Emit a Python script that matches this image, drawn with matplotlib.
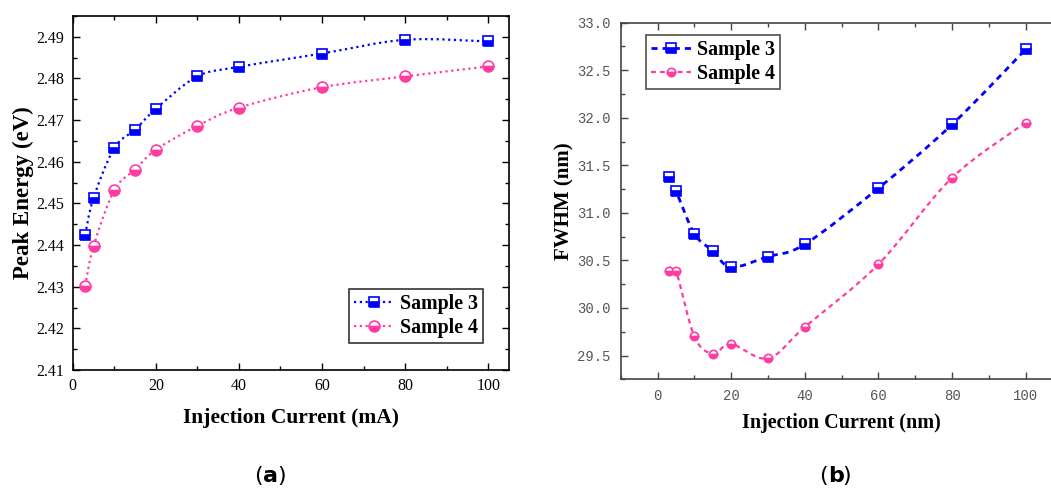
import numpy as np
import matplotlib
matplotlib.use("Agg")
import matplotlib.pyplot as plt
from matplotlib.path import Path
from matplotlib.patches import PathPatch
from matplotlib.lines import Line2D
from matplotlib.ticker import MultipleLocator, FormatStrFormatter

# ---------------------------------------------------------------------------
# Data
# ---------------------------------------------------------------------------
current = [3, 5, 10, 15, 20, 30, 40, 60, 80, 100]

peak_s3 = [2.4425, 2.4513, 2.4633, 2.4677, 2.4727, 2.4805, 2.4828, 2.4860, 2.4893, 2.4889]
peak_s4 = [2.4302, 2.4397, 2.4532, 2.4581, 2.4629, 2.4686, 2.4730, 2.4779, 2.4805, 2.4829]

fwhm_s3 = [31.38, 31.23, 30.78, 30.60, 30.43, 30.54, 30.67, 31.26, 31.93, 32.72]
fwhm_s4 = [30.39, 30.39, 29.70, 29.52, 29.62, 29.47, 29.80, 30.46, 31.37, 31.95]

labels = ["Sample 3", "Sample 4"]

BLUE = "#0000FF"
PINK = "#FF3CA0"
SERIF = "Liberation Serif"


def smooth_path(x, y):
    """Catmull-Rom spline through the points, as cubic Bezier segments."""
    p = np.column_stack([x, y]).astype(float)
    ext = np.vstack([p[0], p, p[-1]])
    verts = [p[0]]
    codes = [Path.MOVETO]
    for i in range(len(p) - 1):
        p0, p1, p2, p3 = ext[i], ext[i + 1], ext[i + 2], ext[i + 3]
        verts += [p1 + (p2 - p0) / 6.0, p2 - (p3 - p1) / 6.0, p2]
        codes += [Path.CURVE4] * 3
    return Path(verts, codes)


def draw_series(ax, x, y, color, marker, ms, ls, lw):
    ax.add_patch(PathPatch(smooth_path(x, y), fill=False, edgecolor=color,
                           linestyle=ls, lw=lw, zorder=2))
    ax.plot(x, y, ls="none", marker=marker, ms=ms, color=color,
            fillstyle="bottom", markerfacecoloralt="white",
            markeredgecolor=color, mew=1.2, zorder=3)
    return Line2D([], [], color=color, ls=ls, lw=lw, marker=marker, ms=ms,
                  fillstyle="bottom", markerfacecoloralt="white",
                  markeredgecolor=color, mew=1.2)


fig = plt.figure(figsize=(10.51, 4.96), dpi=100)

# ---------------------------------------------------------------------------
# (a) Peak energy
# ---------------------------------------------------------------------------
ax1 = fig.add_axes([0.0692, 0.254, 0.4151, 0.7137])
h1 = draw_series(ax1, current, peak_s3, BLUE, "s", 7.8, (0, (1, 1.6)), 1.6)
h2 = draw_series(ax1, current, peak_s4, PINK, "o", 7.8, (0, (1, 1.6)), 1.6)
ax1.set_xlim(0, 105)
ax1.set_ylim(2.41, 2.495)
ax1.xaxis.set_major_locator(MultipleLocator(20))
ax1.xaxis.set_minor_locator(MultipleLocator(10))
ax1.yaxis.set_major_locator(MultipleLocator(0.01))
ax1.yaxis.set_minor_locator(MultipleLocator(0.005))
ax1.yaxis.set_major_formatter(FormatStrFormatter("%.2f"))
ax1.tick_params(which="both", direction="in", top=True, right=True, width=1.0)
ax1.tick_params(which="major", length=5, labelsize=11.5, pad=6)
ax1.tick_params(which="minor", length=3)
for lab in ax1.get_xticklabels() + ax1.get_yticklabels():
    lab.set_family(SERIF)
for s in ax1.spines.values():
    s.set_linewidth(1.2)
ax1.set_xlabel("Injection Current (mA)", family=SERIF, fontweight="bold",
               fontsize=15.5, labelpad=10)
ax1.set_ylabel("Peak Energy (eV)", family=SERIF, fontweight="bold",
               fontsize=16.5, labelpad=2)
leg1 = ax1.legend([h1, h2], labels, loc="lower right", bbox_to_anchor=(0.94, 0.075),
                  prop={"family": SERIF, "weight": "bold", "size": 14.4},
                  frameon=True, fancybox=False, edgecolor="black",
                  handlelength=2.0, handletextpad=0.3, borderpad=0.25,
                  labelspacing=0.2, borderaxespad=0)
leg1.get_frame().set_linewidth(1.2)

# ---------------------------------------------------------------------------
# (b) FWHM
# ---------------------------------------------------------------------------
ax2 = fig.add_axes([0.5906, 0.2353, 0.4204, 0.719])
h3 = draw_series(ax2, current, fwhm_s3, BLUE, "s", 7.5, (0, (2.2, 1.8)), 2.0)
h4 = draw_series(ax2, current, fwhm_s4, PINK, "o", 6.0, (0, (2.2, 1.8)), 1.6)
ax2.set_xlim(-10, 110)
ax2.set_ylim(29.25, 33.0)
ax2.xaxis.set_major_locator(MultipleLocator(20))
ax2.xaxis.set_minor_locator(MultipleLocator(10))
ax2.yaxis.set_major_locator(MultipleLocator(0.5))
ax2.yaxis.set_minor_locator(MultipleLocator(0.25))
ax2.yaxis.set_major_formatter(FormatStrFormatter("%.1f"))
ax2.tick_params(which="both", direction="in", top=True, right=False,
                width=1.0, color="#444444", labelcolor="#555555")
ax2.tick_params(which="major", length=5, labelsize=10, pad=7)
ax2.tick_params(which="minor", length=3)
for lab in ax2.get_xticklabels() + ax2.get_yticklabels():
    lab.set_family("Liberation Mono")
for s in ax2.spines.values():
    s.set_linewidth(1.2)
    s.set_color("#444444")
ax2.set_xlabel("Injection Current (nm)", family=SERIF, fontweight="bold",
               fontsize=14.5, labelpad=7)
ax2.set_ylabel("FWHM (nm)", family=SERIF, fontweight="bold",
               fontsize=15, labelpad=2)
leg2 = ax2.legend([h3, h4], labels, loc="upper left", bbox_to_anchor=(0.058, 0.965),
                  prop={"family": SERIF, "weight": "bold", "size": 14.4},
                  frameon=True, fancybox=False, edgecolor="#222222",
                  handlelength=2.0, handletextpad=0.3, borderpad=0.25,
                  labelspacing=0.2, borderaxespad=0)
leg2.get_frame().set_linewidth(1.2)

# ---------------------------------------------------------------------------
# Panel captions
# ---------------------------------------------------------------------------
for xc, letter in [(0.250, "a"), (0.788, "b")]:
    fig.text(xc, 0.028, "(", family="DejaVu Sans", fontsize=16, ha="right", va="baseline")
    fig.text(xc, 0.028, letter, family="DejaVu Sans", fontweight="bold", fontsize=16,
             ha="left", va="baseline")
    fig.text(xc + 0.0135, 0.028, ")", family="DejaVu Sans", fontsize=16, ha="left", va="baseline")

fig.savefig("out.png", dpi=100)
